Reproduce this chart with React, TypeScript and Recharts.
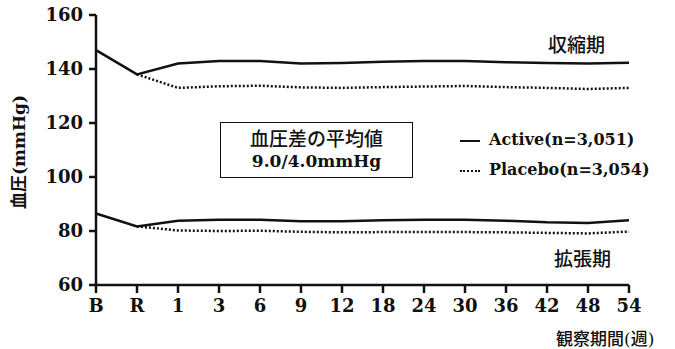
import React from "react";
import { LineChart, Line, XAxis, YAxis } from "recharts";

const weeks = ["B", "R", "1", "3", "6", "9", "12", "18", "24", "30", "36", "42", "48", "54"];
const sysActive = [147, 138, 142, 143, 143, 142, 142.2, 142.7, 143, 143, 142.5, 142.2, 142, 142.3];
const sysPlacebo = [null, 138, 133, 133.6, 133.8, 133.2, 133, 133.3, 133.5, 133.7, 133.3, 133, 132.6, 133];
const diaActive = [86.5, 81.7, 83.8, 84.2, 84.2, 83.6, 83.6, 84, 84.2, 84.2, 83.8, 83.2, 83, 84];
const diaPlacebo = [null, 81.7, 80.2, 80, 80.1, 79.7, 79.5, 79.6, 79.6, 79.6, 79.5, 79.3, 79.1, 79.8];
const yTicks = [60, 80, 100, 120, 140, 160];

const data = weeks.map((w, i) => ({
  week: w,
  sysActive: sysActive[i],
  sysPlacebo: sysPlacebo[i],
  diaActive: diaActive[i],
  diaPlacebo: diaPlacebo[i],
}));

const serif = "'DejaVu Serif', 'Liberation Serif', serif";
const jp = "'Noto Sans CJK JP', sans-serif";
const ink = "#111";

export default function App() {
  const tickStyle = { fontFamily: serif, fontWeight: "bold", fontSize: 18, fill: ink };
  const lineProps = { type: "linear" as const, stroke: ink, strokeWidth: 2.5, dot: false, isAnimationActive: false };
  return (
    <div style={{ position: "absolute", left: 0, top: 0, width: 675, height: 349, background: "#fff" }}>
      <LineChart
        width={675}
        height={349}
        data={data}
        margin={{ top: 15, right: 46, left: 0, bottom: 24 }}
      >
        <XAxis
          dataKey="week"
          interval={0}
          height={40}
          padding={{ left: 0, right: 0 }}
          stroke={ink}
          strokeWidth={2.5}
          tickSize={8}
          tick={tickStyle}
          tickMargin={6}
        />
        <YAxis
          domain={[60, 160]}
          ticks={yTicks}
          width={96}
          stroke={ink}
          strokeWidth={2.5}
          tickSize={7}
          tick={tickStyle}
          tickMargin={6}
        />
        <Line dataKey="sysActive" {...lineProps} />
        <Line dataKey="sysPlacebo" {...lineProps} strokeDasharray="2 2" />
        <Line dataKey="diaActive" {...lineProps} />
        <Line dataKey="diaPlacebo" {...lineProps} strokeDasharray="2 2" />
      </LineChart>

      {/* y axis title */}
      <div
        style={{
          position: "absolute",
          left: 17,
          top: 152,
          transform: "translate(-50%, -50%) rotate(-90deg)",
          whiteSpace: "nowrap",
          fontFamily: jp,
          fontWeight: "bold",
          fontSize: 17,
          color: ink,
        }}
      >
        血圧<span style={{ fontFamily: serif }}>(mmHg)</span>
      </div>

      {/* annotation box */}
      <div style={{ position: "absolute", left: 220, top: 122, width: 193, height: 56, border: "1.5px solid " + ink, boxSizing: "border-box", textAlign: "center", color: ink }}>
        <div style={{ fontFamily: jp, fontWeight: 500, fontSize: 19, lineHeight: "24px", marginTop: 3 }}>血圧差の平均値</div>
        <div style={{ fontFamily: serif, fontWeight: "bold", fontSize: 17, lineHeight: "22px" }}>9.0/4.0mmHg</div>
      </div>

      {/* legend */}
      <div style={{ position: "absolute", left: 460, top: 125, fontFamily: serif, fontWeight: "bold", fontSize: 16, color: ink, lineHeight: "30px", whiteSpace: "nowrap" }}>
        <div>
          <span style={{ display: "inline-block", width: 20, borderTop: "2.5px solid " + ink, verticalAlign: "middle", marginRight: 9 }} />
          Active(n=3,051)
        </div>
        <div>
          <span style={{ display: "inline-block", width: 20, borderTop: "2.5px dotted " + ink, verticalAlign: "middle", marginRight: 9 }} />
          Placebo(n=3,054)
        </div>
      </div>

      <div style={{ position: "absolute", left: 548, top: 30, fontFamily: jp, fontWeight: 500, fontSize: 19, color: ink }}>収縮期</div>
      <div style={{ position: "absolute", left: 554, top: 244, fontFamily: jp, fontWeight: 500, fontSize: 19, color: ink }}>拡張期</div>
      <div style={{ position: "absolute", left: 556, top: 325, fontFamily: jp, fontWeight: 500, fontSize: 17, color: ink, whiteSpace: "nowrap" }}>
        観察期間<span style={{ fontFamily: serif }}>(</span>週<span style={{ fontFamily: serif }}>)</span>
      </div>
    </div>
  );
}
